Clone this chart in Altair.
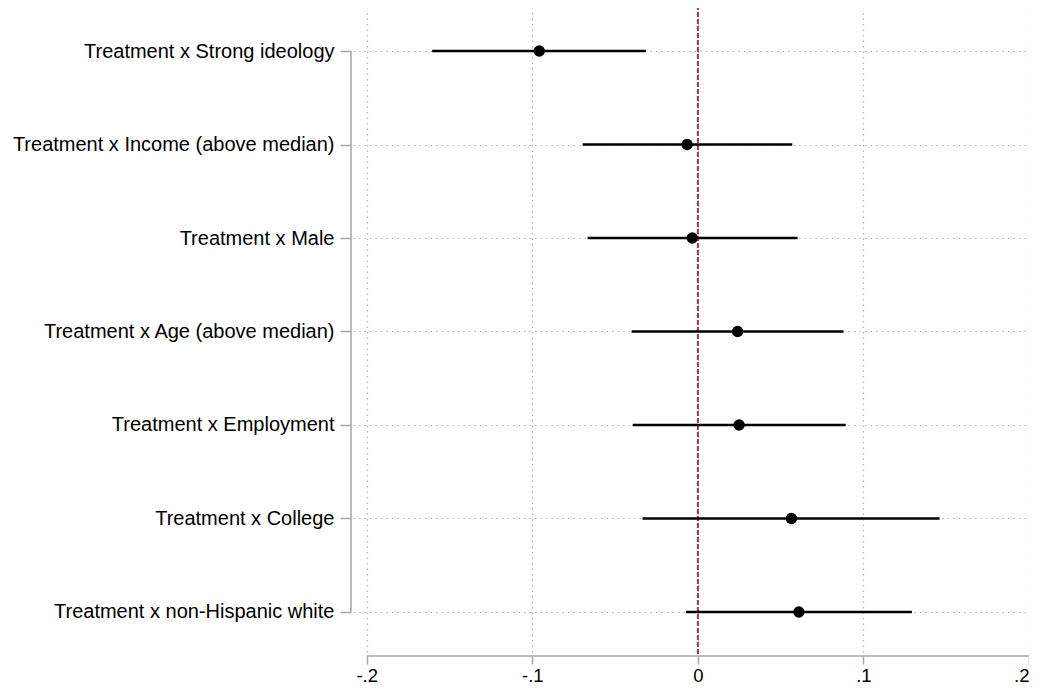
import altair as alt
import pandas as pd

terms = [
    "Treatment x Strong ideology",
    "Treatment x Income (above median)",
    "Treatment x Male",
    "Treatment x Age (above median)",
    "Treatment x Employment",
    "Treatment x College",
    "Treatment x non-Hispanic white",
]
estimates = [-0.0958, -0.0065, -0.0034, 0.0240, 0.0249, 0.0565, 0.0610]
ci_low = [-0.1605, -0.0696, -0.0666, -0.0400, -0.0394, -0.0334, -0.0072]
ci_high = [-0.0314, 0.0570, 0.0602, 0.0879, 0.0893, 0.1460, 0.1293]
x_ticks = [-0.2, -0.1, 0.0, 0.1, 0.2]

df = pd.DataFrame({
    "idx": list(range(len(terms))),
    "term": terms,
    "est": estimates,
    "lo": ci_low,
    "hi": ci_high,
})

FONT = "Liberation Sans"
W, H = 676, 644
GRAY = "#a6a6a6"

label_arr = "[" + ",".join("'%s'" % t for t in terms) + "]"

xscale = alt.Scale(domain=[-0.2083, 0.2], nice=False, zero=False)
yscale = alt.Scale(domain=[-0.46, 6.428], nice=False, zero=False, reverse=True)

xaxis = alt.Axis(
    values=x_ticks,
    labelExpr="datum.value == 0 ? '0' : (datum.value < 0 ? '-' : '') + replace(format(abs(datum.value), '.1f'), '0.', '.')",
    domain=False, tickColor=GRAY, tickSize=8, tickWidth=1.5, offset=4,
    labelFont=FONT, labelFontSize=18.5, labelColor="black", labelPadding=2,
    labelFlush=True,
    grid=True, gridColor="#b4b4b4", gridDash=[1.5, 4], gridWidth=1.2, title=None,
)
yaxis = alt.Axis(
    values=list(range(len(terms))),
    labelExpr=label_arr + "[datum.value]",
    domain=False, tickColor=GRAY, tickSize=11, tickWidth=1.5, offset=2,
    labelFont=FONT, labelFontSize=20, labelColor="black", labelPadding=6,
    labelBaseline="middle", labelLimit=400,
    grid=True, gridColor="#b4b4b4", gridDash=[1.5, 4], gridWidth=1.2, title=None,
)

base = alt.Chart(df)

grid_layer = base.mark_point(opacity=0).encode(
    x=alt.X("est:Q", scale=xscale, axis=xaxis),
    y=alt.Y("idx:Q", scale=yscale, axis=yaxis),
)

zero_line = alt.Chart(pd.DataFrame({"z": [0.0]})).mark_rule(
    color="#9b3a40", strokeWidth=2, strokeDash=[5, 2]
).encode(x=alt.X("z:Q", scale=xscale), y=alt.value(-3), y2=alt.value(H + 4))

ci = base.mark_rule(color="black", strokeWidth=2.4).encode(
    x=alt.X("lo:Q", scale=xscale), x2="hi:Q",
    y=alt.Y("idx:Q", scale=yscale),
)

pts = base.mark_circle(color="black", opacity=1, size=130).encode(
    x=alt.X("est:Q", scale=xscale),
    y=alt.Y("idx:Q", scale=yscale),
)

xdomain = alt.Chart(pd.DataFrame({"a": [x_ticks[0]], "b": [x_ticks[-1]]})).mark_rule(
    color=GRAY, strokeWidth=1.5
).encode(x=alt.X("a:Q", scale=xscale), x2="b:Q", y=alt.value(H + 4))

ydomain = alt.Chart(pd.DataFrame({"a": [0], "b": [len(terms) - 1]})).mark_rule(
    color=GRAY, strokeWidth=1.5
).encode(y=alt.Y("a:Q", scale=yscale), y2="b:Q", x=alt.value(-2))

chart = alt.layer(grid_layer, zero_line, ci, pts, xdomain, ydomain).properties(
    width=W, height=H,
    background="white",
    autosize=alt.AutoSizeParams(type="none"),
    padding={"left": 345, "top": 0, "right": 0, "bottom": 34},
).configure_view(stroke="transparent", strokeWidth=0)

chart.save("out.html", embed_options={"renderer": "svg", "actions": False})
